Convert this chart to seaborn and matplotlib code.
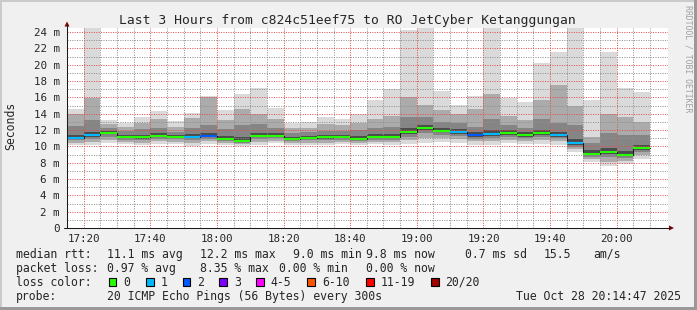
import matplotlib
matplotlib.use("Agg")
import matplotlib.pyplot as plt
import numpy as np
import pandas as pd
import seaborn as sns
from matplotlib.patches import Rectangle, Polygon
from matplotlib.lines import Line2D

# ------------------------------------------------------------------ data
bar_end_times = pd.date_range("2025-10-28 17:20", "2025-10-28 20:10", freq="5min")

median = [11.06, 11.43, 11.67, 11.14, 11.14, 11.30, 11.18, 11.20, 11.30, 10.94,
          10.69, 11.30, 11.30, 10.94, 11.06, 11.14, 11.14, 10.94, 11.18, 11.18,
          11.80, 12.22, 11.90, 11.75, 11.43, 11.55, 11.67, 11.43, 11.67, 11.43,
          10.45, 9.10, 9.35, 9.00, 9.83]
ping_hi = [14.60, 24.60, 13.20, 12.90, 13.60, 14.30, 13.10, 14.10, 16.20, 14.45,
           16.45, 17.10, 14.70, 12.80, 12.95, 13.60, 13.35, 13.90, 15.70, 17.00,
           24.20, 24.60, 16.80, 15.05, 16.15, 24.60, 15.95, 15.45, 20.15, 21.55,
           24.60, 15.65, 21.55, 17.10, 16.65]
ping_p90 = [13.9, 15.9, 12.7, 12.4, 12.9, 13.4, 12.4, 13.5, 16.0, 13.2,
            14.6, 14.0, 13.3, 12.2, 12.3, 12.7, 12.6, 12.9, 13.3, 13.7,
            16.0, 15.1, 14.4, 13.9, 14.6, 16.4, 13.7, 13.2, 15.7, 17.5,
            15.0, 11.2, 13.9, 13.6, 13.0]
ping_p75 = [12.5, 13.2, 12.2, 11.9, 12.1, 12.3, 11.8, 12.3, 12.6, 12.1,
            12.6, 12.7, 12.3, 11.6, 11.7, 11.9, 11.9, 12.0, 12.3, 12.4,
            13.6, 13.6, 13.0, 12.8, 12.4, 13.4, 12.6, 12.3, 13.3, 12.9,
            12.6, 10.4, 11.6, 11.4, 11.4]
ping_p60 = [11.40, 11.80, 11.90, 11.40, 11.45, 11.60, 11.40, 11.50, 11.60, 11.25,
            11.10, 11.65, 11.60, 11.20, 11.30, 11.40, 11.40, 11.25, 11.50, 11.50,
            12.20, 12.60, 12.30, 12.10, 11.80, 11.95, 12.00, 11.75, 12.05, 11.80,
            10.90, 9.50, 9.80, 9.45, 10.20]
ping_p40 = [10.90, 11.20, 11.50, 11.00, 10.95, 11.10, 11.00, 11.00, 11.10, 10.80,
            10.55, 11.10, 11.15, 10.80, 10.90, 10.95, 11.00, 10.80, 11.00, 11.00,
            11.55, 11.95, 11.70, 11.50, 11.20, 11.30, 11.45, 11.20, 11.40, 11.20,
            10.20, 8.90, 9.10, 8.80, 9.60]
ping_p25 = [10.75, 10.95, 11.20, 10.80, 10.75, 10.90, 10.85, 10.80, 10.90, 10.65,
            10.45, 10.90, 11.00, 10.65, 10.75, 10.75, 10.80, 10.60, 10.80, 10.80,
            11.20, 11.60, 11.40, 11.25, 10.95, 11.05, 11.20, 11.00, 11.20, 11.00,
            9.90, 8.70, 8.65, 8.55, 9.30]
ping_p10 = [10.45, 10.55, 10.80, 10.50, 10.45, 10.60, 10.55, 10.45, 10.60, 10.40,
            10.30, 10.50, 10.70, 10.40, 10.45, 10.45, 10.50, 10.40, 10.50, 10.50,
            10.75, 11.00, 11.00, 10.85, 10.60, 10.60, 10.80, 10.65, 10.75, 10.60,
            9.65, 8.40, 8.10, 8.20, 8.90]
ping_lo = [10.20, 10.15, 10.40, 10.30, 10.20, 10.30, 10.30, 10.10, 10.30, 10.20,
           10.10, 10.20, 10.45, 10.20, 10.20, 10.20, 10.30, 10.20, 10.30, 10.20,
           10.30, 10.45, 10.55, 10.40, 10.20, 10.20, 10.40, 10.30, 10.30, 10.20,
           9.35, 8.10, 7.60, 7.80, 8.50]
loss_level = [1, 1, 0, 0, 0, 0, 0, 1, 2, 0,
              0, 0, 0, 0, 0, 0, 0, 0, 0, 0,
              0, 0, 0, 1, 2, 1, 0, 0, 0, 1,
              1, 0, 0, 0, 0]

loss_colors = ["#26ff00", "#00b8ff", "#0059ff", "#7e00ff",
               "#ff00ff", "#ff5500", "#ff0000", "#a00000"]
loss_labels = ["0", "1", "2", "3", "4-5", "6-10", "11-19", "20/20"]

y_ticks = list(range(0, 25, 2))
y_tick_labels = [f"{v} m" if v else "0" for v in y_ticks]
x_tick_labels = ["17:20", "17:40", "18:00", "18:20", "18:40", "19:00", "19:20", "19:40", "20:00"]

title = "Last 3 Hours from c824c51eef75 to RO JetCyber Ketanggungan"
legend_rows = [
    [("median rtt:", 16), ("11.1 ms avg", 107.3), ("12.2 ms max", 200), ("9.0 ms min", 292.7),
     ("9.8 ms now", 366), ("0.7 ms sd", 465), ("15.5", 543.5), ("am/s", 593.3)],
    [("packet loss:", 16), ("0.97 % avg", 107.3), ("8.35 % max", 200), ("0.00 % min", 279.3),
     ("0.00 % now", 366)],
    [("loss color:", 16)],
    [("probe:", 16), ("20 ICMP Echo Pings (56 Bytes) every 300s", 107.3)],
]
timestamp = "Tue Oct 28 20:14:47 2025"

# ------------------------------------------------------------------ style
sns.set_style("white")
plt.rcParams["font.family"] = ["DejaVu Sans Mono", "DejaVu Sans"]

W, H = 697, 310
def fx(x):
    return x / W
def fy(y):
    return 1 - y / H

fig = plt.figure(figsize=(W / 100, H / 100), dpi=100, facecolor="#f0f0f0")

# frame shading
for rect, col in [((0, 1 - 2 / H, 1, 2 / H), "#cbcbcb"), ((0, 0, 2 / W, 1), "#cbcbcb"),
                  ((0, 0, 1, 3 / H), "#999999"), ((1 - 3 / W, 0, 3 / W, 1), "#999999")]:
    fig.add_artist(Rectangle(rect[:2], rect[2], rect[3], transform=fig.transFigure,
                             facecolor=col, edgecolor="none", zorder=0))

ax = fig.add_axes([fx(67), fy(228), 601 / W, 200.3 / H])
ax.set_facecolor("white")

end_min = np.asarray(bar_end_times.hour * 60 + bar_end_times.minute, dtype=float)
start_min = end_min - 5
edges = np.append(start_min, end_min[-1])

def ext(a):
    a = np.asarray(a, dtype=float)
    return np.append(a, a[-1])

bands = [(ping_lo, ping_hi, "#dadada"),
         (ping_p10, ping_p90, "#ababab"),
         (ping_p25, ping_p75, "#858585"),
         (ping_p40, ping_p60, "#4c4c4c")]
for lower, upper, col in bands:
    ax.fill_between(edges, ext(lower), ext(upper), step="post", color=col,
                    linewidth=0, zorder=1)

df = pd.DataFrame({"t": edges, "median": ext(median)})
sns.lineplot(data=df, x="t", y="median", drawstyle="steps-post", color="#1a1a1a",
             linewidth=0.75, ax=ax, zorder=3, legend=False)
ax.hlines(median, start_min, end_min, colors=[loss_colors[i] for i in loss_level],
          linewidth=1.5, zorder=4)

ax.set_xlim(1035, 1215.4)
ax.set_ylim(0, 24.53)
ax.set_xlabel("")
ax.set_ylabel("")

major_x = [17 * 60 + 20 + 20 * k for k in range(len(x_tick_labels))]
ax.set_xticks(major_x)
ax.set_xticklabels(x_tick_labels)
ax.set_xticks(np.arange(1040, 1215, 5), minor=True)
ax.set_yticks(y_ticks)
ax.set_yticklabels(y_tick_labels)
ax.set_yticks(np.arange(1, 25, 2), minor=True)

ax.grid(which="major", color=(0.87, 0.31, 0.31, 0.45), linestyle=(0, (1, 1.4)), linewidth=0.72)
ax.grid(which="minor", color=(0.56, 0.56, 0.56, 0.45), linestyle=(0, (1, 1.4)), linewidth=0.72)
ax.set_axisbelow(False)

for s in ax.spines.values():
    s.set_visible(False)
ax.tick_params(which="both", direction="inout", color="#1a1a1a", width=0.7)
ax.tick_params(which="major", length=3.0)
ax.tick_params(which="minor", length=2.0)
ax.tick_params(axis="y", which="major", labelsize=7.8, pad=3.6)
ax.tick_params(axis="x", which="major", labelsize=7.8, pad=2.9)

# axis lines with arrows
fig.add_artist(Line2D([fx(67), fx(67)], [fy(228), fy(25)], color="#1a1a1a", lw=0.75))
fig.add_artist(Line2D([fx(64), fx(670)], [fy(228), fy(228)], color="#1a1a1a", lw=0.75))
fig.add_artist(Polygon([(fx(64.5), fy(26.5)), (fx(69.5), fy(26.5)), (fx(67), fy(21.5))],
                       closed=True, facecolor="#800000", edgecolor="none"))
fig.add_artist(Polygon([(fx(669), fy(225.5)), (fx(669), fy(230.5)), (fx(674), fy(228))],
                       closed=True, facecolor="#800000", edgecolor="none"))

# texts
fig.text(fx(347.7), fy(24), title, ha="center", va="baseline", fontsize=9.4)
fig.text(fx(11), fy(126), "Seconds", rotation=90, ha="center", va="center", fontsize=8.3)
fig.text(fx(688), fy(59), "RRDTOOL / TOBI OETIKER", rotation=270, ha="center", va="center",
         fontsize=5.9, color="#a0a0a0")

row_baselines = [257.7, 271.7, 285.7, 299.7]
for row, yb in zip(legend_rows, row_baselines):
    for txt, x in row:
        fig.text(fx(x), fy(yb), txt, ha="left", va="baseline", fontsize=8.3)
fig.text(fx(680.5), fy(row_baselines[3]), timestamp, ha="right", va="baseline", fontsize=8.3)

box_x = [108.7, 146, 182.7, 219.3, 256, 307.3, 366, 431]
for bx, col, lab in zip(box_x, loss_colors, loss_labels):
    fig.add_artist(Rectangle((fx(bx), fy(286)), 7.5 / W, 8 / H, transform=fig.transFigure,
                             facecolor=col, edgecolor="black", linewidth=0.8))
    fig.text(fx(bx + 14.6), fy(row_baselines[2]), lab, ha="left", va="baseline", fontsize=8.3)

fig.savefig("out.png", dpi=100, facecolor=fig.get_facecolor())
